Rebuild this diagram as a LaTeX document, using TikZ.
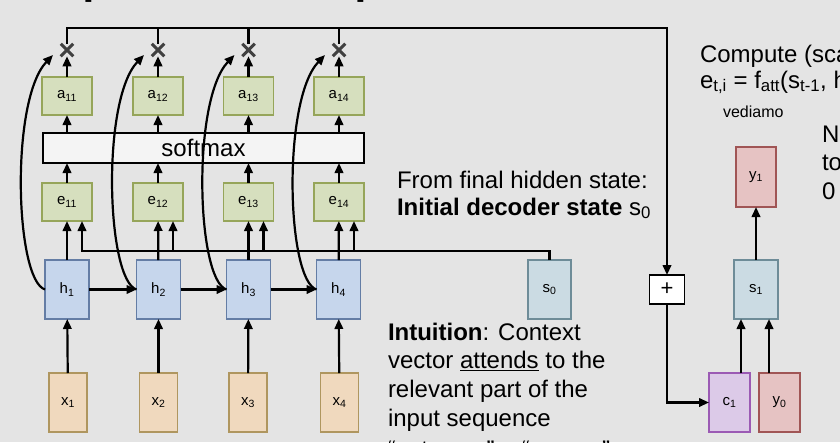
\documentclass[tikz,border=0pt]{standalone}
\usepackage{fontspec}
\setmainfont{Liberation Sans}
\usetikzlibrary{arrows.meta,shapes.misc}
\definecolor{bggray}{RGB}{228,228,228}
\definecolor{agreen}{RGB}{214,223,190}
\definecolor{agreenb}{RGB}{150,165,90}
\definecolor{hblue}{RGB}{198,214,236}
\definecolor{hblueb}{RGB}{100,125,165}
\definecolor{xpeach}{RGB}{240,217,190}
\definecolor{xpeachb}{RGB}{175,150,95}
\definecolor{sgray}{RGB}{203,219,227}
\definecolor{sgrayb}{RGB}{110,140,152}
\definecolor{ypink}{RGB}{230,195,195}
\definecolor{ypinkb}{RGB}{160,85,85}
\definecolor{clav}{RGB}{220,202,232}
\definecolor{clavb}{RGB}{155,90,180}

\begin{document}
\begin{tikzpicture}[x=1pt, y=-1pt, outer sep=0pt]

\tikzstyle{place}=[draw, rectangle, inner sep=0pt, line width=1.2pt, font=\fontsize{15}{18}\selectfont]
\tikzstyle{abox}=[place, draw=agreenb, fill=agreen, minimum width=50pt, minimum height=38pt]
\tikzstyle{hbox}=[place, draw=hblueb, fill=hblue, minimum width=44pt, minimum height=59pt]
\tikzstyle{xbox}=[place, draw=xpeachb, fill=xpeach, minimum width=38pt, minimum height=59pt]
\tikzstyle{sbox}=[place, draw=sgrayb, fill=sgray, minimum width=44pt, minimum height=59pt]
\tikzstyle{ybox}=[place, draw=ypinkb, fill=ypink, minimum width=41pt, minimum height=59pt]
\tikzstyle{cbox}=[place, draw=clavb, fill=clav, minimum width=41pt, minimum height=59pt]
\tikzstyle{mult}=[cross out, draw=black!75, line width=3pt, minimum size=12.5pt, inner sep=0pt]
\tikzstyle{arr}=[-{Triangle[length=10pt,width=8.5pt]}, line width=2.2pt]
\tikzstyle{wire}=[line width=2.2pt]
\tikzstyle{txt}=[anchor=base west, inner sep=0pt, font=\fontsize{24}{28}\selectfont]

\useasboundingbox (0,0) rectangle (840,442);
\fill[bggray] (0,0) rectangle (840,442);
\clip (0,0) rectangle (840,442);

\node[anchor=base west, inner sep=0pt, font=\fontsize{43}{50}\selectfont\bfseries] (title) at (16,-6.5) {Sequence-to-Sequence with RNNs and Attention};

\node[mult] (m1) at (67,50) {}; \node[mult] (m2) at (158,50) {}; \node[mult] (m3) at (248.5,50) {}; \node[mult] (m4) at (339,50) {};
\node[abox] (a11) at (67,96) {a\textsubscript{11}}; \node[abox] (a12) at (158,96) {a\textsubscript{12}}; \node[abox] (a13) at (248.5,96) {a\textsubscript{13}}; \node[abox] (a14) at (339,96) {a\textsubscript{14}};
\node[place, fill=bggray!40!white, minimum width=321pt, minimum height=30pt, font=\fontsize{24}{28}\selectfont] (sm) at (203.5,148) {softmax};
\node[abox] (e11) at (67,202) {e\textsubscript{11}}; \node[abox] (e12) at (158,202) {e\textsubscript{12}}; \node[abox] (e13) at (248.5,202) {e\textsubscript{13}}; \node[abox] (e14) at (339,202) {e\textsubscript{14}};
\node[hbox] (h1) at (67,289.5) {h\textsubscript{1}}; \node[hbox] (h2) at (158.5,289.5) {h\textsubscript{2}}; \node[hbox] (h3) at (248.5,289.5) {h\textsubscript{3}}; \node[hbox] (h4) at (338.5,289.5) {h\textsubscript{4}};
\node[xbox] (x1) at (68,402.5) {x\textsubscript{1}}; \node[xbox] (x2) at (158.5,402.5) {x\textsubscript{2}}; \node[xbox] (x3) at (248,402.5) {x\textsubscript{3}}; \node[xbox] (x4) at (339.5,402.5) {x\textsubscript{4}};

\node[sbox, minimum width=43pt] (s0) at (549.5,289.5) {s\textsubscript{0}};
\node[sbox] (s1) at (756,289.5) {s\textsubscript{1}};
\node[ybox, minimum width=40pt, minimum height=60pt] (y1) at (756,177) {y\textsubscript{1}};
\node[cbox] (c1) at (729.5,402.5) {c\textsubscript{1}}; \node[ybox] (y0) at (779.5,402.5) {y\textsubscript{0}};
\node[place, fill=white, minimum width=35pt, minimum height=29pt, font=\fontsize{22}{22}\selectfont] (plus) at (667,289.5) {+};

\coordinate (tr) at (667,28);
\coordinate (hs) at (82,251);
\coordinate (t1) at (53,55); \coordinate (t2) at (144,55); \coordinate (t3) at (234.5,55); \coordinate (t4) at (325,55);

\draw[arr] (m1.north) |- (tr) -- (plus.north);
\draw[wire] (m2.north) -- (m2.north |- tr); \draw[wire] (m3.north) -- (m3.north |- tr); \draw[wire] (m4.north) -- (m4.north |- tr);
\draw[arr] (a11) -- (m1); \draw[arr] (a12) -- (m2); \draw[arr] (a13) -- (m3); \draw[arr] (a14) -- (m4);
\draw[arr] (a11 |- sm.north) -- (a11); \draw[arr] (a12 |- sm.north) -- (a12); \draw[arr] (a13 |- sm.north) -- (a13); \draw[arr] (a14 |- sm.north) -- (a14);
\draw[arr] (e11) -- (e11 |- sm.south); \draw[arr] (e12) -- (e12 |- sm.south); \draw[arr] (e13) -- (e13 |- sm.south); \draw[arr] (e14) -- (e14 |- sm.south);
\draw[arr] (h1) -- (e11); \draw[arr] (h2) -- (e12); \draw[arr] (h3) -- (e13); \draw[arr] (h4) -- (e14);
\draw[arr] (s0.north) |- (hs) -- (hs |- e11.south);
\draw[arr] ([xshift=15pt]e12.south |- hs) -- ([xshift=15pt]e12.south); \draw[arr] ([xshift=15pt]e13.south |- hs) -- ([xshift=15pt]e13.south); \draw[arr] ([xshift=15pt]e14.south |- hs) -- ([xshift=15pt]e14.south);
\draw[arr] (h1) -- (h2); \draw[arr] (h2) -- (h3); \draw[arr] (h3) -- (h4);
\draw[arr] (x1) -- (h1); \draw[arr] (x2) -- (h2); \draw[arr] (x3) -- (h3); \draw[arr] (x4) -- (h4);
\draw[arr] (h1.west) .. controls +(-30,-9.5) and +(-43,45) .. (t1);
\draw[arr] (h2.west) .. controls +(-30,-9.5) and +(-43,45) .. (t2);
\draw[arr] (h3.west) .. controls +(-30,-9.5) and +(-43,45) .. (t3);
\draw[arr] (h4.west) .. controls +(-30,-9.5) and +(-43,45) .. (t4);

\draw[arr] (plus.south) |- (c1.west);
\draw[arr] ([xshift=11.5pt]c1.north) -- ([xshift=11.5pt]c1.north |- s1.south);
\draw[arr] ([xshift=-10.5pt]y0.north) -- ([xshift=-10.5pt]y0.north |- s1.south);
\draw[arr] (s1) -- (y1);

\node[txt] (fh1) at (397,188) {From final hidden state:};
\node[txt] (fh2) at (397,215) {\textbf{Initial decoder state} s\textsubscript{0}};
\node[txt] (in1) at (388,340) {\textbf{Intuition}: Context};
\node[txt] (in2) at (388,368.7) {vector \underline{attends} to the};
\node[txt] (in3) at (388,397.4) {relevant part of the};
\node[txt] (in4) at (388,426) {input sequence};
\node[txt] (in5) at (388,457.5) {“estamos” = “we are”};
\node[txt] (co1) at (700,62) {Compute (scalar) alignment scores};
\node[txt] (co2) at (700,88) {e\textsubscript{t,i} = f\textsubscript{att}(s\textsubscript{t-1}, h\textsubscript{i})};
\node[anchor=base west, inner sep=0pt, font=\fontsize{16}{18}\selectfont] (ved) at (723,117) {vediamo};
\node[txt] (no1) at (822,142) {Normalize alignment scores};
\node[txt] (no2) at (822,170) {to get attention weights};
\node[txt] (no3) at (822,199) {0 < a\textsubscript{t,i} < 1};

\end{tikzpicture}
\end{document}
